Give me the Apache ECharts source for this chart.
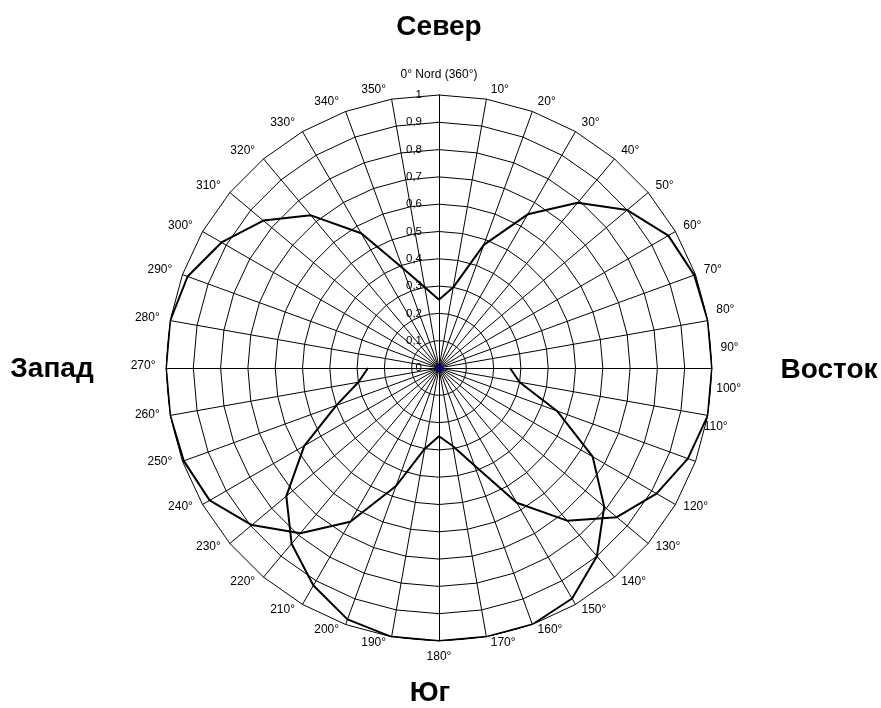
<!DOCTYPE html>
<html>
<head>
<meta charset="utf-8">
<script src="https://cdn.jsdelivr.net/npm/echarts@6/dist/echarts.min.js"></script>
<style>html,body{margin:0;padding:0;background:#fff}#c{width:881px;height:708px}</style>
</head>
<body>
<div id="c"></div>
<script>
// Angles in degrees (clockwise from North)
const anglesA = [0,10,20,30,40,50,60,70,80,90,100,110,120,130,140,150,160,170,180,190,200,210,220,230,240,250,260,270,280,290,300,310,320,330,340,350,360];
const valuesA = [0.25,0.30,0.48,0.65,0.79,0.90,0.97,0.995,1.0,1.0,1.0,0.97,0.92,0.85,0.73,0.57,0.38,0.29,0.25,0.30,0.46,0.65,0.79,0.895,0.97,0.995,1.0,1.0,1.0,0.98,0.92,0.84,0.73,0.57,0.39,0.30,0.25];
const anglesB = [90,100,110,120,130,140,150,160,170,180,190,200,210,220,230,240,250,260,270];
const valuesB = [0.26,0.30,0.46,0.65,0.79,0.90,0.975,1.0,1.0,1.0,1.0,0.98,0.92,0.84,0.73,0.57,0.40,0.30,0.26];
const centerPoint = [[0, 0]];
const angleTickLabels = [0,10,20,30,40,50,60,70,80,90,100,110,120,130,140,150,160,170,180,190,200,210,220,230,240,250,260,270,280,290,300,310,320,330,340,350];
const northLabel = '0° Nord (360°)';
const directionLabels = { north: 'Север', south: 'Юг', west: 'Запад', east: 'Восток' };

const FONT = '"Liberation Sans", Arial, sans-serif';
const CX = 439, CY = 368, R = 273;
const RMAX = 1;
// extra vertical shift of a few angle labels (layout only)
const labelLift = { 80: -8, 90: -18, 100: -26, 110: -35 };

const indicators = angleTickLabels.map(() => ({ name: '', min: 0, max: RMAX }));

function renderAngleLabel(params, api) {
  const a = api.value(1);
  const p = api.coord([api.value(0), a]);
  const rad = a * Math.PI / 180;
  const s = Math.sin(rad), c = Math.cos(rad);
  let x = p[0], y = p[1], align, text = a + '°';
  if (a === 0) { align = 'center'; y -= 20; text = northLabel; }
  else if (a === 180) { align = 'center'; y += 16; }
  else if (a < 180) { align = 'left'; x += 3.5 + 5 * Math.abs(s); y += -2 - 8 * c + (labelLift[a] || 0); }
  else { align = 'right'; x -= 4.5 + 6 * Math.abs(s); y += -2 - 8 * c; }
  return {
    type: 'text', x: x, y: y, silent: true,
    style: { text: text, align: align, verticalAlign: 'middle', font: '12px ' + FONT, fill: '#000' }
  };
}

const chart = echarts.init(document.getElementById('c'), null, { renderer: 'canvas' });
chart.setOption({
  backgroundColor: '#fff',
  animation: false,
  radar: {
    center: [CX, CY],
    radius: R,
    startAngle: 90,
    splitNumber: 10,
    shape: 'polygon',
    indicator: indicators,
    axisName: { show: false },
    axisLine: { lineStyle: { color: '#000', width: 1 } },
    splitLine: { lineStyle: { color: '#000', width: 1 } },
    splitArea: { show: false },
    axisTick: { show: false },
    axisLabel: { show: false }
  },
  polar: { center: [CX, CY], radius: R },
  angleAxis: {
    type: 'value', min: 0, max: 360, interval: 10,
    startAngle: 90, clockwise: true,
    axisLine: { show: false }, axisTick: { show: false }, splitLine: { show: false },
    axisLabel: { show: false }
  },
  radiusAxis: {
    type: 'value', min: 0, max: RMAX, interval: 0.1,
    axisLine: { show: false }, axisTick: { show: false }, splitLine: { show: false },
    axisLabel: {
      margin: 17, color: '#000', fontSize: 11.5, fontFamily: FONT,
      formatter: v => String(Math.round(v * 10) / 10).replace('.', ',')
    }
  },
  graphic: [
    { type: 'text', x: 439, y: 27, style: { text: directionLabels.north, font: 'bold 28px ' + FONT, fill: '#000', align: 'center', verticalAlign: 'middle' } },
    { type: 'text', x: 430, y: 693, style: { text: directionLabels.south, font: 'bold 28px ' + FONT, fill: '#000', align: 'center', verticalAlign: 'middle' } },
    { type: 'text', x: 52, y: 369, style: { text: directionLabels.west, font: 'bold 28px ' + FONT, fill: '#000', align: 'center', verticalAlign: 'middle' } },
    { type: 'text', x: 829, y: 370, style: { text: directionLabels.east, font: 'bold 28px ' + FONT, fill: '#000', align: 'center', verticalAlign: 'middle' } }
  ],
  series: [
    {
      type: 'line', coordinateSystem: 'polar', showSymbol: false, silent: true,
      lineStyle: { color: '#000', width: 2 },
      data: anglesA.map((a, i) => [valuesA[i], a]), z: 5
    },
    {
      type: 'line', coordinateSystem: 'polar', showSymbol: false, silent: true,
      lineStyle: { color: '#000', width: 2 },
      data: anglesB.map((a, i) => [valuesB[i], a]), z: 5
    },
    {
      type: 'scatter', coordinateSystem: 'polar', symbolSize: 8, silent: true,
      itemStyle: { color: '#000080' },
      data: centerPoint, z: 6
    },
    {
      type: 'custom', coordinateSystem: 'polar', clip: false, silent: true,
      renderItem: renderAngleLabel,
      data: angleTickLabels.map(a => [RMAX, a]), z: 7
    }
  ]
});
</script>
</body>
</html>
